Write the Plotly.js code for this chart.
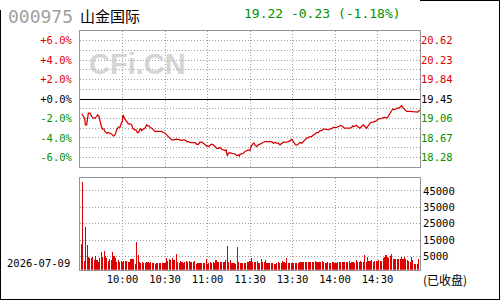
<!DOCTYPE html>
<html><head><meta charset="utf-8">
<script src="https://cdn.plot.ly/plotly-3.0.1.min.js"></script>
<style>
html,body{margin:0;padding:0;background:#fff}
#chart{width:500px;height:300px}
#chart .bars path{shape-rendering:crispEdges}
</style>
</head><body><div id="chart"></div>
<script>
const stockCode = "000975";
const stockName = "山金国际";
const prevClose = 19.45;
const lastPrice = 19.22;
const change = -0.23;
const changePct = -1.18;
const tradeDate = "2026-07-09";
const statusText = "(已收盘)";
const watermarkText = "CFi.CN";

const timeTickMinutes = [30, 60, 90, 120, 150, 180, 210];
const timeTickLabels = ["10:00", "10:30", "11:00", "11:30", "13:30", "14:00", "14:30"];
const pctTicks = [6, 4, 2, 0, -2, -4, -6];
const pctTickLabels = ["+6.0%", "+4.0%", "+2.0%", "+0.0%", "-2.0%", "-4.0%", "-6.0%"];
const priceTickLabels = ["20.62", "20.23", "19.84", "19.45", "19.06", "18.67", "18.28"];
const volTicks = [5000, 15000, 25000, 35000, 45000];
const volTickLabels = ["5000", "15000", "25000", "35000", "45000"];

// minutes since 9:30 (trading minutes, lunch removed)
const lineMinutes = [1.2,2.4,3.3,3.8,4.7,5.2,5.9,7.1,8.2,9.4,10.6,11.8,12.5,13.4,14.1,15.1,16,16.9,17.6,18.8,20,21.2,22.4,23.5,24.2,25.2,25.9,27.1,28.2,29.2,29.9,30.1,30.6,31.3,32.2,33.4,34.1,35.3,36.5,37.2,38.4,39.5,40.5,41.2,41.9,42.8,43.5,44.7,45.9,47.1,47.8,48.7,49.4,50.6,51.8,52.9,56.5,57.6,58.8,60,61.2,62.4,63.5,64.7,65.9,68.2,70.6,71.8,72.9,74.1,75.3,76.5,77.6,78.8,80,81.2,82.4,83.5,84.7,85.9,87.1,88.2,89.4,90.6,91.8,92.9,94.1,95.3,96.5,97.6,98.8,100,101.2,102.4,103.1,103.5,104,104.7,105.9,107.1,108.2,109.4,110.6,111.8,112.5,112.9,114.1,115.3,116.5,117.6,118.8,120,
120.7,121.9,122.8,123.5,124.7,125.9,127.1,128.2,129.4,130.6,132.9,135.3,136.5,137.6,138.8,140,141.2,142.4,143.5,145.9,147.1,148.2,149.4,150.1,151.1,152.2,153.4,154.6,155.3,156.5,157.6,158.8,160,161.2,162.4,163.5,164.7,165.9,167.1,168.2,169.4,170.6,171.8,172.9,174.1,175.3,176.5,177.6,178.8,181.2,182.4,183.5,184.2,185.4,186.6,190.6,191.8,192.5,193.4,194.4,195.3,196.5,197.6,198.8,200,201.2,202.4,203.1,204.2,205.2,206.4,207.5,208.5,209.9,211.3,212.5,213.6,215.3,216.5,217.6,218.8,220,220.7,221.6,222.8,224,225.2,226.4,227.1,227.8,228.7,229.4,230.6,232.9,236.5,237.6,238.4,239.3,240];
// percent change vs previous close
const linePct = [-1.52,-1.79,-1.97,-2.66,-2.66,-2.14,-1.45,-1.45,-1.79,-1.97,-1.97,-1.79,-1.62,-1.79,-2.31,-2.83,-3.10,-3.10,-3.34,-3.52,-3.45,-3.52,-3.62,-3.79,-3.79,-3.52,-3.17,-2.90,-2.90,-2.48,-2.31,-1.79,-1.72,-1.97,-2.14,-2.31,-2.55,-2.55,-2.66,-3.00,-3.17,-3.17,-3.45,-3.45,-3.17,-3.00,-3.24,-3.10,-3.00,-2.66,-2.76,-2.76,-2.90,-3.00,-3.17,-3.34,-3.34,-3.34,-3.45,-3.52,-3.69,-3.86,-4.03,-4.21,-4.21,-4.14,-4.21,-4.28,-4.21,-4.21,-4.38,-4.38,-4.48,-4.48,-4.55,-4.48,-4.66,-4.66,-4.45,-4.45,-4.55,-4.72,-4.83,-4.90,-4.76,-4.66,-4.72,-4.90,-5.07,-5.07,-5.00,-5.17,-5.24,-5.31,-5.24,-5.59,-5.86,-5.59,-5.52,-5.59,-5.59,-5.66,-5.83,-5.76,-5.86,-5.69,-5.66,-5.59,-5.41,-5.31,-5.24,-5.30,
-4.90,-4.62,-4.55,-4.72,-4.90,-4.72,-4.66,-4.55,-4.48,-4.38,-4.38,-4.38,-4.55,-4.48,-4.55,-4.55,-4.72,-4.55,-4.45,-4.45,-4.38,-4.31,-4.14,-4.31,-4.55,-4.72,-4.72,-4.62,-4.48,-4.55,-4.38,-4.21,-4.03,-3.97,-3.86,-3.86,-3.69,-3.62,-3.45,-3.45,-3.28,-3.24,-3.10,-3.10,-3.17,-3.17,-3.07,-3.07,-2.93,-2.93,-2.83,-2.72,-2.72,-2.83,-3.00,-3.00,-2.93,-2.76,-2.83,-2.76,-2.72,-2.90,-3.00,-2.83,-2.66,-2.83,-3.00,-2.83,-2.59,-2.41,-2.38,-2.38,-2.31,-2.14,-2.03,-2.03,-1.93,-1.90,-1.97,-1.79,-1.52,-1.17,-1.03,-1.10,-1.00,-0.93,-0.93,-0.83,-0.69,-0.86,-1.00,-1.17,-1.28,-1.28,-1.28,-1.34,-1.34,-1.21,-1.18];

// per-minute volume, minute 1..239
const volume = [12570,50700,2000,23150,11950,4800,3760,4180,4800,2780,
5220,3000,1740,3760,7430,4800,8280,5220,3760,2160,
3390,2500,7860,5220,4180,1310,2780,1740,2350,1740,
2000,2160,2160,1310,1800,3390,3390,3390,500,13980,
5840,1310,940,1310,940,940,1310,1310,940,1310,
940,700,510,940,940,1100,1100,1100,1000,1100,
3760,2160,3390,2780,3760,2560,2560,6450,1310,940,
2160,1310,940,1310,2160,1740,2160,1310,1310,1740,
2160,500,940,940,940,700,940,1100,3390,510,
940,1310,1100,1500,1200,2560,1310,1500,1500,1500,
1500,1500,2560,11530,1310,2560,940,1100,940,500,
10920,1310,940,940,940,940,700,1310,1740,2000,
4180,1330,1330,1330,2150,720,1000,3370,1740,1500,
2960,720,920,800,720,720,510,600,920,1330,
1100,920,2150,1330,1200,3770,720,720,800,920,
720,920,900,720,1330,1330,1330,1330,1330,1500,
1740,1740,1330,1330,1330,2150,1330,1500,1740,1330,
2150,1330,1200,920,1330,1100,920,1330,1330,1100,
920,1330,1330,1330,1330,1740,1330,1330,1330,2150,
920,1740,1500,720,2760,1740,1740,2150,1330,1330,
5820,1330,4800,2150,2150,2760,1740,2150,2150,2150,
2760,2400,2150,4180,4800,5820,4500,3770,5410,6430,
3370,3370,3370,3370,3370,3370,4800,3370,4800,3500,
2760,2150,1500,4800,2760,300,200,200,3390];

const RED = "#dd0000", GREEN = "#009000", BLACK = "#000000";
const GRID = "#a0a0a0", FRAME = "#949494";
const MONO = "DejaVu Sans Mono, monospace";
const CJK = "Noto Sans CJK SC, sans-serif";
const VOL_FLOOR = -3160, VOL_TOP = 52750;

const W = 500, H = 300;
const px = x => x / W, py = y => 1 - y / H;
const colorFor = v => v > 0 ? RED : (v < 0 ? GREEN : BLACK);
const span = (t, c) => `<span style="color:${c}">${t}</span>`;

const volMinutes = volume.map((_, i) => i + 1);

const traces = [
  { type: "scatter", mode: "lines", x: lineMinutes, y: linePct, xaxis: "x", yaxis: "y",
    line: { color: "#d40000", width: 1.25 }, hoverinfo: "skip", showlegend: false },
  { type: "scatter", mode: "lines", x: [0, 240], y: [0, 0], xaxis: "x", yaxis: "y2",
    line: { color: "rgba(0,0,0,0)", width: 0 }, hoverinfo: "skip", showlegend: false },
  { type: "bar", x: volMinutes, y: volume.map(v => v - VOL_FLOOR), base: VOL_FLOOR,
    xaxis: "x2", yaxis: "y3", width: 0.72,
    marker: { color: RED, line: { width: 0 } }, hoverinfo: "skip", showlegend: false }
];

const gridDash = "1px,2px";
const commonX = {
  range: [0, 240], tickmode: "array", tickvals: timeTickMinutes, ticktext: timeTickLabels,
  showgrid: true, gridcolor: GRID, gridwidth: 1, griddash: gridDash, zeroline: false,
  showline: true, mirror: true, linecolor: FRAME, linewidth: 1, ticks: "", fixedrange: true
};

const layout = {
  width: W, height: H, margin: { l: 0, r: 0, t: 0, b: 0 },
  paper_bgcolor: "#ffffff", plot_bgcolor: "#ffffff", showlegend: false,
  bargap: 0,
  xaxis: Object.assign({}, commonX, { domain: [px(80), px(420)], anchor: "y", showticklabels: false }),
  xaxis2: Object.assign({}, commonX, { domain: [px(80), px(420)], anchor: "y3", showticklabels: true,
    tickfont: { family: MONO, size: 10.5, color: BLACK }, ticklabelstandoff: 0 }),
  yaxis: {
    domain: [py(167), py(31)], anchor: "x", range: [-7, 7],
    tickmode: "array", tickvals: pctTicks,
    ticktext: pctTickLabels.map((t, i) => span(t, colorFor(pctTicks[i]))),
    tickfont: { family: MONO, size: 10.5 }, ticks: "", ticklabelstandoff: 5,
    showgrid: true, gridcolor: GRID, griddash: gridDash,
    minor: { dtick: 1, tick0: 0, showgrid: true, gridcolor: GRID, griddash: gridDash, ticks: "" },
    zeroline: true, zerolinecolor: BLACK, zerolinewidth: 1,
    showline: true, mirror: true, linecolor: FRAME, linewidth: 1, fixedrange: true
  },
  yaxis2: {
    overlaying: "y", side: "right", anchor: "x", range: [-7, 7],
    tickmode: "array", tickvals: pctTicks,
    ticktext: priceTickLabels.map((t, i) => span(t, colorFor(pctTicks[i]))),
    tickfont: { family: MONO, size: 10.5 }, ticks: "", ticklabelstandoff: 0,
    showgrid: false, zeroline: false, showline: false, fixedrange: true
  },
  yaxis3: {
    domain: [py(269.7), py(178.3)], anchor: "x2", side: "right", range: [VOL_FLOOR, VOL_TOP],
    tickmode: "array", tickvals: volTicks, ticktext: volTickLabels,
    tickfont: { family: MONO, size: 10.5, color: BLACK }, ticks: "", ticklabelstandoff: 0,
    showgrid: true, gridcolor: GRID, griddash: gridDash, zeroline: false,
    showline: true, mirror: true, linecolor: FRAME, linewidth: 1, fixedrange: true
  },
  annotations: [
    { text: stockCode, xref: "paper", yref: "paper", x: px(6), y: py(16.5), xanchor: "left", yanchor: "middle",
      showarrow: false, font: { family: MONO, size: 18, color: "#a0a0a0" } },
    { text: stockName, xref: "paper", yref: "paper", x: px(78), y: py(15.5), xanchor: "left", yanchor: "middle",
      showarrow: false, font: { family: CJK, size: 15, color: BLACK } },
    { text: `${lastPrice.toFixed(2)} ${change.toFixed(2)} (${changePct.toFixed(2)}%)`,
      xref: "paper", yref: "paper", x: px(242), y: py(13.5), xanchor: "left", yanchor: "middle",
      showarrow: false, font: { family: MONO, size: 13, color: GREEN } },
    { text: watermarkText, xref: "paper", yref: "paper", x: px(137.5), y: py(64.5), xanchor: "center", yanchor: "middle",
      showarrow: false, font: { family: "Liberation Sans, Arial, sans-serif", size: 29, color: "rgba(185,185,185,0.62)", weight: "bold" } },
    { text: tradeDate, xref: "paper", yref: "paper", x: px(5), y: py(263), xanchor: "left", yanchor: "middle",
      showarrow: false, font: { family: MONO, size: 10.5, color: BLACK } },
    { text: statusText, xref: "paper", yref: "paper", x: px(421), y: py(279.5), xanchor: "left", yanchor: "middle",
      showarrow: false, font: { family: CJK, size: 12, color: BLACK } }
  ],
  shapes: [
    { type: "line", xref: "paper", yref: "paper", x0: px(0.5), x1: px(0.5), y0: py(10), y1: py(300), line: { color: BLACK, width: 1 } },
    { type: "line", xref: "paper", yref: "paper", x0: 0, x1: 1, y0: py(299.5), y1: py(299.5), line: { color: BLACK, width: 1 } },
    { type: "line", xref: "paper", yref: "paper", x0: px(499.5), x1: px(499.5), y0: 0, y1: 1, line: { color: BLACK, width: 1 } },
    { type: "line", xref: "paper", yref: "paper", x0: px(420), x1: 1, y0: py(0.5), y1: py(0.5), line: { color: BLACK, width: 1 } }
  ]
};

Plotly.newPlot("chart", traces, layout, { staticPlot: true, displayModeBar: false });
</script>
</body></html>
